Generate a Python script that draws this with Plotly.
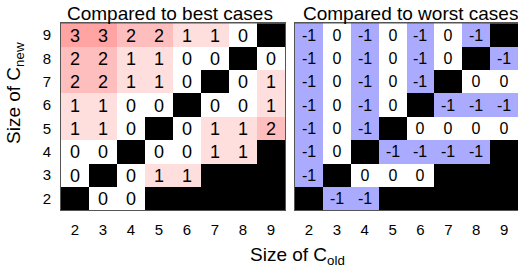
import plotly.graph_objects as go
import numpy as np

cols = [2, 3, 4, 5, 6, 7, 8, 9]
rows = [9, 8, 7, 6, 5, 4, 3, 2]
B = None
best_vals = [
    [3, 3, 2, 2, 1, 1, 0, B],
    [2, 2, 1, 1, 0, 0, B, 0],
    [2, 2, 1, 1, 0, B, 0, 1],
    [1, 1, 0, 0, B, 0, 0, 1],
    [1, 1, 0, B, 0, 1, 1, 2],
    [0, 0, B, 0, 0, 1, 1, B],
    [0, B, 0, 1, 1, B, B, B],
    [B, 0, 0, B, B, B, B, B],
]
worst_vals = [
    [-1, 0, -1, 0, -1, 0, -1, B],
    [-1, 0, -1, 0, -1, 0, B, -1],
    [-1, 0, -1, 0, -1, B, 0, 0],
    [-1, 0, -1, 0, B, -1, -1, -1],
    [-1, 0, -1, B, 0, 0, 0, 0],
    [-1, 0, B, -1, -1, -1, -1, B],
    [-1, B, 0, 0, 0, B, B, B],
    [B, -1, -1, B, B, B, B, B],
]
titles = ["Compared to best cases", "Compared to worst cases"]

def zt(vals):
    z = [[np.nan if v is None else v for v in r] for r in vals]
    t = [["" if v is None else str(v) for v in r] for r in vals]
    return z, t

FONT = "Liberation Sans, Arial, sans-serif"
fig = go.Figure()
zb, tb = zt(best_vals)
zw, tw = zt(worst_vals)
fig.add_trace(go.Heatmap(
    x=cols, y=rows, z=zb, text=tb, texttemplate="%{text}",
    textfont=dict(size=18, color="black", family=FONT),
    zmin=0, zmax=3,
    colorscale=[[0, "#ffffff"], [1/3, "#ffdede"], [2/3, "#ffbebe"], [1, "#ffa3a3"]],
    showscale=False, xaxis="x", yaxis="y", hoverongaps=False))
fig.add_trace(go.Heatmap(
    x=cols, y=rows, z=zw, text=tw, texttemplate="%{text}",
    textfont=dict(size=16, color="black", family=FONT),
    zmin=-1, zmax=0,
    colorscale=[[0, "#aaaaff"], [1, "#ffffff"]],
    showscale=False, xaxis="x2", yaxis="y2", hoverongaps=False))

W, H = 518, 274
def px(x):
    return x / W
def py(y):
    return 1 - y / H

ydom = [py(210), py(23.3)]
axcommon = dict(showgrid=False, zeroline=False, showline=True, mirror=True,
                linecolor="#555555", linewidth=1, ticks="",
                tickfont=dict(size=15, color="black", family=FONT))
fig.update_layout(
    width=W, height=H, margin=dict(l=0, r=0, t=0, b=0),
    paper_bgcolor="white", plot_bgcolor="black",
    font=dict(family=FONT, color="black"),
    xaxis=dict(domain=[px(61), px(285)], range=[1.5, 9.5], tickmode="array",
               tickvals=cols, ticklabelstandoff=6, anchor="y", **axcommon),
    yaxis=dict(domain=ydom, range=[1.5, 9.5], tickmode="array", tickvals=rows,
               ticklabelstandoff=6, anchor="x", **axcommon),
    xaxis2=dict(domain=[px(295), 1], range=[1.5, 9.5], tickmode="array",
                tickvals=cols, ticklabelstandoff=6, anchor="y2", **axcommon),
    yaxis2=dict(domain=ydom, range=[1.5, 9.5], tickmode="array", tickvals=rows,
                showticklabels=False, anchor="x2", **axcommon),
    showlegend=False,
)
ann = [
    dict(text=titles[0], x=px(170), y=py(13)),
    dict(text=titles[1], x=px(410), y=py(13)),
    dict(text="Size of C<sub>old</sub>", x=px(297), y=py(256)),
    dict(text="Size of C<sub>new</sub>", x=px(15), y=py(93), textangle=-90),
]
for a in ann:
    fig.add_annotation(xref="paper", yref="paper", showarrow=False,
                       xanchor="center", yanchor="middle",
                       font=dict(size=19, color="black", family=FONT), **a)
fig.write_html("out.html", config={"displayModeBar": False},
               post_script="document.body.style.margin='0';document.body.style.padding='0';")
